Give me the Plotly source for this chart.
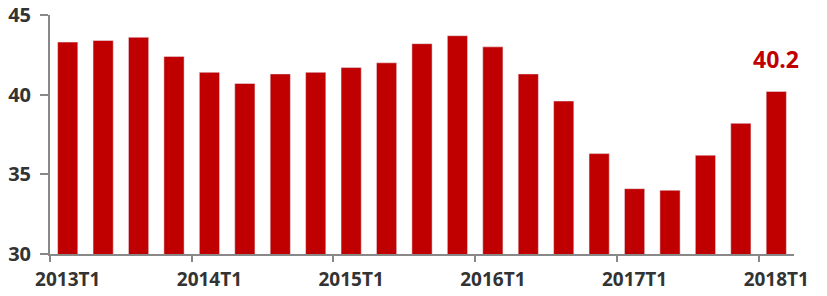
import plotly.graph_objects as go

quarters = [f"{y}T{q}" for y in range(2013, 2018) for q in range(1, 5)] + ["2018T1"]
values = [43.3, 43.4, 43.6, 42.4, 41.4, 40.7, 41.3, 41.4, 41.7, 42.0, 43.2, 43.7,
          43.0, 41.3, 39.6, 36.3, 34.1, 34.0, 36.2, 38.2, 40.2]
last_label = "40.2"

RED = "#C00000"
fig = go.Figure(go.Bar(x=quarters, y=values, marker_color=RED, width=0.57))

fig.add_annotation(x=quarters[-1], y=values[-1], text=f"<b>{last_label}</b>",
                   showarrow=False, yanchor="bottom", yshift=14,
                   font=dict(family="Open Sans", size=23, color=RED))

fig.update_layout(
    width=827, height=296,
    margin=dict(l=50, r=33, t=15, b=42),
    paper_bgcolor="white", plot_bgcolor="white",
    showlegend=False,
    font=dict(family="Open Sans", color="#333333"),
)
fig.update_xaxes(
    type="category", tickmode="linear", tick0=0, dtick=4, tickangle=0,
    tickson="boundaries", ticks="outside", ticklen=6, tickwidth=2, tickcolor="#888888",
    showline=True, linecolor="#888888", linewidth=2, automargin=False,
    ticklabelstandoff=7,
    tickfont=dict(family="Open Sans", size=19, color="#333333", weight="bold"),
    showgrid=False, range=[-0.5, 20.5],
)
fig.update_yaxes(
    range=[30, 45], tickvals=[30, 35, 40, 45],
    ticks="outside", ticklen=8, tickwidth=2, tickcolor="#888888",
    showline=True, linecolor="#888888", linewidth=2, automargin=False,
    ticklabelstandoff=5,
    tickfont=dict(family="Open Sans", size=20, color="#333333", weight="bold"),
    showgrid=False, zeroline=False,
)

fig.write_html("out.html")
